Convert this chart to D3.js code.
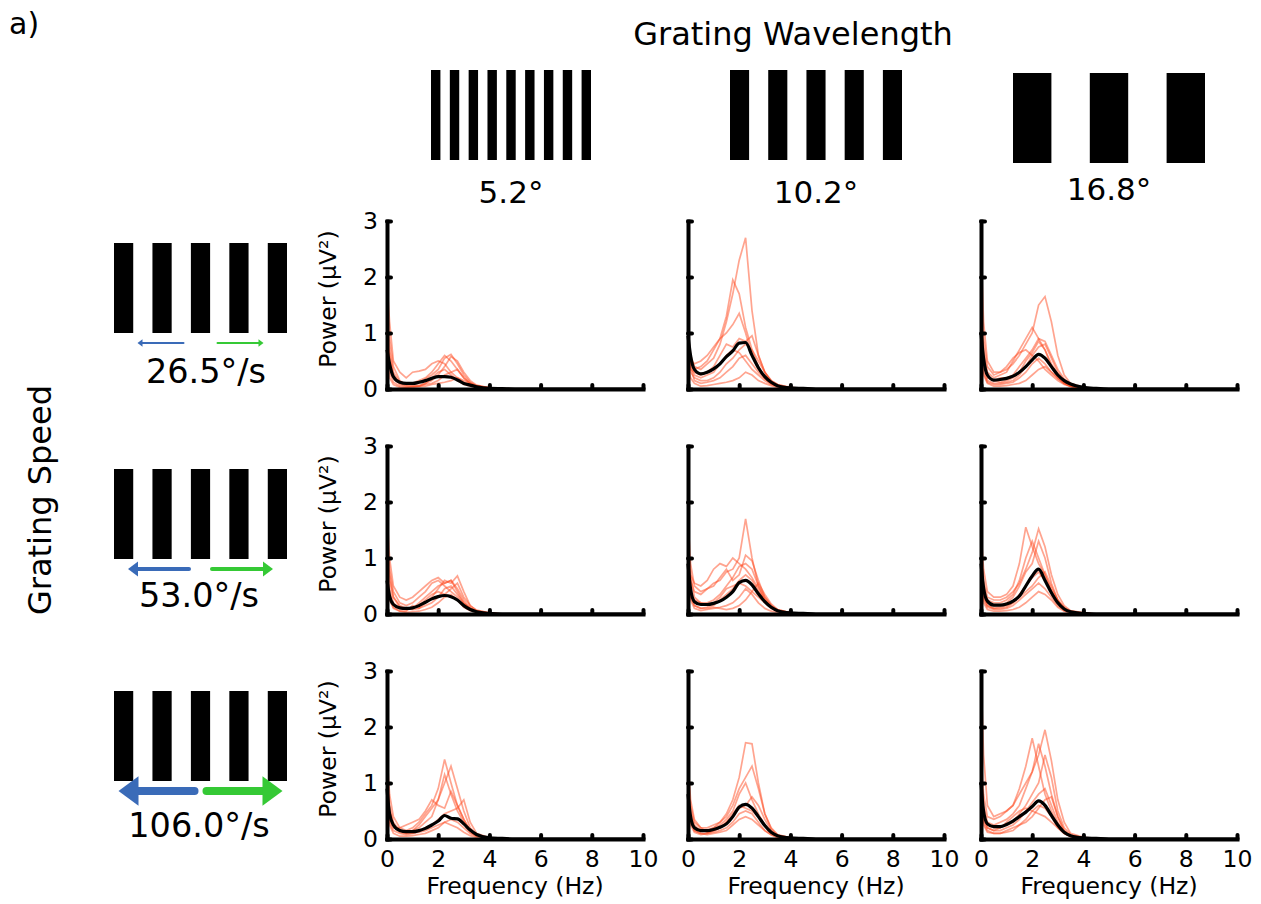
<!DOCTYPE html>
<html>
<head>
<meta charset="utf-8">
<script src="https://cdn.jsdelivr.net/npm/d3@7"></script>
<style>
body { margin: 0; background: #fff; }
svg { font-family: "DejaVu Sans", sans-serif; }
.axis path, .axis line { stroke: #000; stroke-width: 4; }
.axis path { stroke-linecap: square; }
.axis line { stroke-linecap: round; }
.axis text { font-size: 23.5px; fill: #000; font-family: "DejaVu Sans", sans-serif; }
</style>
</head>
<body>
<div id="chart"></div>
<script>
// frequency grid (Hz) shared by every spectrum
const freqs = [0, 0.1, 0.25, 0.5, 0.75, 1.0, 1.25, 1.5, 1.75, 2.0, 2.25, 2.5, 2.75, 3.0, 3.25, 3.5, 4.0, 4.5, 5, 10];

const wavelengths = ["5.2°", "10.2°", "16.8°"];
const speedLabels = ["26.5°/s", "53.0°/s", "106.0°/s"];
const speeds = [26.5, 53.0, 106.0];
const gratingBars = [9, 5, 3];
const xTicks = [0, 2, 4, 6, 8, 10];
const yTicks = [0, 1, 2, 3];

// row 1 : 26.5 deg/s
const mean_r1c1 = [0.7, 0.45, 0.22, 0.12, 0.1, 0.1, 0.12, 0.15, 0.19, 0.22, 0.22, 0.21, 0.16, 0.1, 0.07, 0.04, 0.01, 0.005, 0, 0];
const trials_r1c1 = [
  [1.9, 1.2, 0.5, 0.3, 0.2, 0.3, 0.32, 0.35, 0.45, 0.5, 0.45, 0.3, 0.2, 0.12, 0.08, 0.05, 0.02, 0.01, 0, 0],
  [1.5, 0.9, 0.4, 0.15, 0.08, 0.1, 0.15, 0.2, 0.3, 0.45, 0.6, 0.5, 0.35, 0.2, 0.1, 0.05, 0.02, 0, 0, 0],
  [1.2, 0.7, 0.3, 0.12, 0.1, 0.08, 0.1, 0.18, 0.25, 0.35, 0.55, 0.62, 0.45, 0.25, 0.12, 0.06, 0.02, 0, 0, 0],
  [0.9, 0.5, 0.2, 0.08, 0.05, 0.05, 0.06, 0.1, 0.15, 0.25, 0.4, 0.58, 0.5, 0.3, 0.15, 0.07, 0.02, 0, 0, 0],
  [0.6, 0.3, 0.12, 0.05, 0.03, 0.04, 0.05, 0.08, 0.1, 0.15, 0.25, 0.3, 0.35, 0.2, 0.1, 0.05, 0.01, 0, 0, 0],
  [0.4, 0.2, 0.08, 0.03, 0.02, 0.03, 0.05, 0.1, 0.2, 0.3, 0.35, 0.25, 0.15, 0.08, 0.05, 0.03, 0.01, 0, 0, 0],
  [1.0, 0.6, 0.25, 0.1, 0.06, 0.05, 0.04, 0.05, 0.08, 0.1, 0.12, 0.15, 0.2, 0.15, 0.1, 0.05, 0.01, 0, 0, 0]
];
const mean_r1c2 = [0.95, 0.6, 0.35, 0.27, 0.3, 0.36, 0.45, 0.58, 0.68, 0.82, 0.83, 0.6, 0.38, 0.22, 0.12, 0.06, 0.02, 0.01, 0, 0];
const trials_r1c2 = [
  [1.0, 0.6, 0.4, 0.35, 0.45, 0.55, 0.8, 1.2, 1.7, 2.3, 2.7, 1.4, 0.6, 0.3, 0.15, 0.08, 0.02, 0.01, 0, 0],
  [0.9, 0.5, 0.35, 0.4, 0.5, 0.7, 0.9, 1.3, 1.95, 1.7, 1.1, 0.7, 0.4, 0.2, 0.1, 0.05, 0.02, 0, 0, 0],
  [0.8, 0.5, 0.45, 0.5, 0.6, 0.75, 0.9, 1.0, 1.15, 1.35, 1.0, 0.6, 0.35, 0.2, 0.1, 0.05, 0.02, 0, 0, 0],
  [0.6, 0.35, 0.3, 0.25, 0.3, 0.4, 0.6, 0.8, 0.75, 0.9, 0.85, 0.95, 0.6, 0.3, 0.12, 0.06, 0.02, 0, 0, 0],
  [0.5, 0.3, 0.2, 0.15, 0.15, 0.2, 0.3, 0.45, 0.55, 0.7, 0.8, 0.7, 0.5, 0.3, 0.15, 0.08, 0.03, 0.01, 0, 0],
  [0.7, 0.4, 0.15, 0.1, 0.12, 0.15, 0.2, 0.3, 0.4, 0.55, 0.6, 0.45, 0.3, 0.18, 0.1, 0.05, 0.01, 0, 0, 0],
  [0.4, 0.2, 0.1, 0.05, 0.06, 0.08, 0.1, 0.12, 0.15, 0.2, 0.3, 0.25, 0.15, 0.1, 0.06, 0.03, 0.01, 0, 0, 0],
  [0.8, 0.45, 0.25, 0.2, 0.25, 0.3, 0.45, 0.6, 0.7, 0.65, 0.5, 0.35, 0.25, 0.15, 0.08, 0.04, 0.01, 0, 0, 0]
];
const mean_r1c3 = [1.0, 0.55, 0.25, 0.16, 0.17, 0.19, 0.23, 0.3, 0.4, 0.52, 0.62, 0.55, 0.4, 0.25, 0.15, 0.09, 0.03, 0.01, 0, 0];
const trials_r1c3 = [
  [1.8, 0.9, 0.4, 0.25, 0.3, 0.35, 0.45, 0.6, 0.8, 1.0, 1.5, 1.65, 1.2, 0.6, 0.25, 0.1, 0.03, 0.01, 0, 0],
  [1.4, 0.7, 0.3, 0.2, 0.25, 0.3, 0.5, 0.7, 0.9, 1.1, 0.9, 0.7, 0.45, 0.25, 0.12, 0.05, 0.02, 0, 0, 0],
  [1.0, 0.5, 0.2, 0.15, 0.2, 0.2, 0.25, 0.4, 0.55, 0.7, 0.9, 0.85, 0.6, 0.35, 0.18, 0.08, 0.02, 0, 0, 0],
  [0.8, 0.4, 0.15, 0.1, 0.1, 0.12, 0.15, 0.25, 0.4, 0.6, 0.75, 0.8, 0.55, 0.3, 0.15, 0.07, 0.02, 0, 0, 0],
  [0.6, 0.3, 0.12, 0.08, 0.08, 0.1, 0.12, 0.2, 0.3, 0.45, 0.55, 0.45, 0.3, 0.18, 0.1, 0.05, 0.01, 0, 0, 0],
  [1.2, 0.6, 0.25, 0.15, 0.12, 0.15, 0.2, 0.3, 0.5, 0.65, 0.85, 0.7, 0.4, 0.2, 0.1, 0.05, 0.01, 0, 0, 0],
  [0.5, 0.25, 0.1, 0.05, 0.05, 0.06, 0.08, 0.1, 0.15, 0.25, 0.35, 0.4, 0.3, 0.2, 0.1, 0.05, 0.01, 0, 0, 0],
  [2.5, 1.2, 0.5, 0.3, 0.3, 0.4, 0.55, 0.65, 0.7, 0.6, 0.5, 0.35, 0.25, 0.15, 0.08, 0.04, 0.01, 0, 0, 0]
];

// row 2 : 53.0 deg/s
const mean_r2c1 = [0.6, 0.32, 0.17, 0.11, 0.1, 0.11, 0.15, 0.21, 0.27, 0.31, 0.33, 0.31, 0.25, 0.15, 0.08, 0.04, 0.01, 0, 0, 0];
const trials_r2c1 = [
  [1.8, 1.0, 0.5, 0.3, 0.25, 0.3, 0.4, 0.5, 0.6, 0.65, 0.55, 0.6, 0.45, 0.25, 0.1, 0.05, 0.01, 0, 0, 0],
  [1.4, 0.8, 0.4, 0.2, 0.15, 0.2, 0.3, 0.4, 0.55, 0.6, 0.5, 0.4, 0.3, 0.18, 0.1, 0.05, 0.01, 0, 0, 0],
  [1.0, 0.6, 0.3, 0.15, 0.1, 0.08, 0.1, 0.2, 0.3, 0.45, 0.6, 0.55, 0.68, 0.4, 0.15, 0.06, 0.02, 0, 0, 0],
  [0.8, 0.45, 0.2, 0.1, 0.08, 0.1, 0.2, 0.3, 0.4, 0.5, 0.55, 0.6, 0.4, 0.2, 0.1, 0.05, 0.01, 0, 0, 0],
  [0.6, 0.3, 0.12, 0.05, 0.05, 0.15, 0.1, 0.15, 0.2, 0.3, 0.45, 0.5, 0.35, 0.2, 0.1, 0.04, 0.01, 0, 0, 0],
  [0.5, 0.25, 0.1, 0.05, 0.03, 0.04, 0.05, 0.08, 0.12, 0.2, 0.3, 0.35, 0.25, 0.12, 0.06, 0.03, 0.01, 0, 0, 0],
  [1.2, 0.7, 0.3, 0.12, 0.1, 0.12, 0.15, 0.25, 0.35, 0.4, 0.35, 0.45, 0.55, 0.3, 0.15, 0.07, 0.02, 0, 0, 0]
];
const mean_r2c2 = [0.9, 0.45, 0.22, 0.17, 0.17, 0.19, 0.23, 0.3, 0.4, 0.56, 0.6, 0.52, 0.36, 0.22, 0.12, 0.06, 0.02, 0.01, 0, 0];
const trials_r2c2 = [
  [1.7, 0.9, 0.5, 0.4, 0.45, 0.55, 0.6, 0.75, 0.8, 1.0, 1.7, 1.0, 0.5, 0.25, 0.12, 0.06, 0.02, 0, 0, 0],
  [1.2, 0.7, 0.55, 0.5, 0.6, 0.8, 0.9, 0.85, 1.0, 0.9, 0.8, 0.65, 0.45, 0.25, 0.12, 0.05, 0.02, 0, 0, 0],
  [1.0, 0.6, 0.4, 0.35, 0.45, 0.5, 0.65, 0.8, 0.6, 0.7, 1.05, 0.95, 0.6, 0.3, 0.15, 0.06, 0.02, 0, 0, 0],
  [0.8, 0.4, 0.25, 0.2, 0.2, 0.25, 0.35, 0.5, 0.65, 0.85, 0.9, 0.8, 0.5, 0.3, 0.15, 0.08, 0.02, 0, 0, 0],
  [0.6, 0.3, 0.15, 0.1, 0.12, 0.15, 0.25, 0.35, 0.45, 0.6, 0.7, 0.6, 0.4, 0.25, 0.12, 0.06, 0.02, 0, 0, 0],
  [0.5, 0.25, 0.1, 0.06, 0.08, 0.1, 0.12, 0.15, 0.2, 0.3, 0.45, 0.35, 0.2, 0.1, 0.05, 0.03, 0.01, 0, 0, 0],
  [0.7, 0.35, 0.15, 0.1, 0.1, 0.12, 0.1, 0.08, 0.1, 0.15, 0.25, 0.4, 0.55, 0.35, 0.18, 0.08, 0.02, 0, 0, 0],
  [1.4, 0.7, 0.3, 0.2, 0.15, 0.2, 0.3, 0.45, 0.5, 0.55, 0.5, 0.4, 0.3, 0.2, 0.1, 0.05, 0.02, 0, 0, 0]
];
const mean_r2c3 = [0.9, 0.47, 0.23, 0.16, 0.16, 0.18, 0.23, 0.32, 0.5, 0.68, 0.8, 0.6, 0.38, 0.2, 0.09, 0.04, 0.01, 0, 0, 0];
const trials_r2c3 = [
  [1.5, 0.8, 0.4, 0.3, 0.3, 0.35, 0.5, 0.9, 1.55, 1.2, 0.9, 0.7, 0.45, 0.25, 0.12, 0.05, 0.02, 0, 0, 0],
  [1.2, 0.6, 0.3, 0.25, 0.25, 0.3, 0.4, 0.55, 0.8, 1.1, 1.52, 1.2, 0.7, 0.35, 0.15, 0.06, 0.02, 0, 0, 0],
  [1.0, 0.5, 0.25, 0.2, 0.2, 0.25, 0.35, 0.6, 1.0, 1.3, 1.0, 0.7, 0.4, 0.2, 0.1, 0.04, 0.01, 0, 0, 0],
  [0.8, 0.4, 0.2, 0.15, 0.15, 0.2, 0.3, 0.5, 0.75, 0.9, 1.3, 1.0, 0.55, 0.25, 0.1, 0.04, 0.01, 0, 0, 0],
  [0.6, 0.3, 0.15, 0.1, 0.1, 0.12, 0.2, 0.35, 0.5, 0.65, 0.75, 0.6, 0.4, 0.2, 0.08, 0.03, 0.01, 0, 0, 0],
  [0.5, 0.25, 0.12, 0.08, 0.08, 0.1, 0.15, 0.25, 0.35, 0.45, 0.55, 0.45, 0.3, 0.15, 0.06, 0.03, 0.01, 0, 0, 0],
  [0.7, 0.35, 0.15, 0.1, 0.12, 0.15, 0.2, 0.3, 0.4, 0.5, 0.65, 0.75, 0.5, 0.25, 0.1, 0.04, 0.01, 0, 0, 0],
  [0.4, 0.2, 0.08, 0.05, 0.05, 0.06, 0.08, 0.12, 0.2, 0.3, 0.4, 0.35, 0.25, 0.12, 0.05, 0.02, 0.01, 0, 0, 0]
];

// row 3 : 106.0 deg/s
const mean_r3c1 = [0.9, 0.45, 0.25, 0.15, 0.13, 0.13, 0.15, 0.19, 0.25, 0.32, 0.42, 0.37, 0.36, 0.27, 0.16, 0.08, 0.02, 0.01, 0, 0];
const trials_r3c1 = [
  [1.5, 0.8, 0.4, 0.2, 0.15, 0.2, 0.3, 0.45, 0.6, 0.9, 1.42, 1.0, 0.6, 0.35, 0.15, 0.06, 0.02, 0, 0, 0],
  [1.2, 0.6, 0.3, 0.15, 0.1, 0.15, 0.2, 0.3, 0.4, 0.7, 1.0, 1.3, 0.9, 0.5, 0.2, 0.08, 0.02, 0, 0, 0],
  [0.9, 0.5, 0.25, 0.15, 0.12, 0.15, 0.25, 0.4, 0.55, 0.7, 1.15, 0.8, 0.5, 0.3, 0.12, 0.05, 0.02, 0, 0, 0],
  [0.7, 0.35, 0.2, 0.2, 0.25, 0.3, 0.35, 0.5, 0.7, 0.6, 0.55, 0.85, 0.6, 0.35, 0.15, 0.06, 0.02, 0, 0, 0],
  [0.6, 0.3, 0.15, 0.1, 0.08, 0.1, 0.15, 0.2, 0.25, 0.35, 0.45, 0.5, 0.55, 0.7, 0.3, 0.1, 0.02, 0, 0, 0],
  [0.5, 0.25, 0.1, 0.05, 0.05, 0.06, 0.08, 0.1, 0.15, 0.2, 0.3, 0.25, 0.2, 0.12, 0.06, 0.03, 0.01, 0, 0, 0],
  [1.0, 0.5, 0.25, 0.12, 0.1, 0.1, 0.12, 0.15, 0.2, 0.25, 0.3, 0.35, 0.3, 0.2, 0.1, 0.05, 0.01, 0, 0, 0]
];
const mean_r3c2 = [0.8, 0.4, 0.2, 0.15, 0.15, 0.17, 0.21, 0.27, 0.4, 0.57, 0.62, 0.55, 0.4, 0.24, 0.12, 0.06, 0.02, 0.01, 0, 0];
const trials_r3c2 = [
  [1.2, 0.6, 0.3, 0.2, 0.2, 0.25, 0.3, 0.45, 0.7, 1.1, 1.72, 1.7, 1.0, 0.45, 0.2, 0.08, 0.02, 0, 0, 0],
  [1.0, 0.5, 0.25, 0.15, 0.15, 0.2, 0.3, 0.4, 0.6, 0.9, 1.1, 1.3, 0.9, 0.45, 0.18, 0.07, 0.02, 0, 0, 0],
  [0.8, 0.4, 0.2, 0.15, 0.15, 0.2, 0.25, 0.35, 0.5, 0.8, 1.0, 0.7, 0.45, 0.25, 0.1, 0.05, 0.01, 0, 0, 0],
  [0.6, 0.3, 0.15, 0.1, 0.1, 0.15, 0.2, 0.3, 0.4, 0.55, 0.6, 0.75, 0.6, 0.35, 0.15, 0.06, 0.02, 0, 0, 0],
  [0.5, 0.25, 0.12, 0.08, 0.1, 0.12, 0.15, 0.2, 0.3, 0.45, 0.5, 0.45, 0.3, 0.15, 0.08, 0.03, 0.01, 0, 0, 0],
  [0.7, 0.35, 0.15, 0.1, 0.08, 0.1, 0.12, 0.15, 0.25, 0.35, 0.4, 0.35, 0.25, 0.15, 0.07, 0.03, 0.01, 0, 0, 0],
  [1.4, 0.7, 0.35, 0.2, 0.12, 0.15, 0.2, 0.3, 0.45, 0.6, 0.55, 0.5, 0.4, 0.25, 0.12, 0.05, 0.01, 0, 0, 0]
];
const mean_r3c3 = [1.0, 0.5, 0.27, 0.22, 0.22, 0.26, 0.32, 0.4, 0.48, 0.58, 0.68, 0.6, 0.42, 0.25, 0.12, 0.06, 0.02, 0.01, 0, 0];
const trials_r3c3 = [
  [3.0, 1.5, 0.6, 0.4, 0.45, 0.5, 0.6, 0.8, 1.0, 1.2, 1.5, 1.95, 1.4, 0.7, 0.3, 0.1, 0.03, 0.01, 0, 0],
  [1.5, 0.8, 0.4, 0.35, 0.4, 0.5, 0.6, 0.9, 1.3, 1.8, 1.3, 0.8, 0.5, 0.25, 0.1, 0.05, 0.02, 0, 0, 0],
  [1.2, 0.6, 0.3, 0.25, 0.3, 0.35, 0.45, 0.6, 0.9, 1.2, 1.7, 1.3, 0.8, 0.4, 0.15, 0.06, 0.02, 0, 0, 0],
  [0.9, 0.45, 0.25, 0.2, 0.2, 0.25, 0.3, 0.45, 0.6, 0.8, 1.0, 1.5, 1.1, 0.5, 0.2, 0.08, 0.02, 0, 0, 0],
  [0.7, 0.35, 0.2, 0.15, 0.15, 0.2, 0.25, 0.35, 0.5, 0.65, 0.8, 0.9, 0.6, 0.3, 0.12, 0.05, 0.02, 0, 0, 0],
  [0.5, 0.25, 0.12, 0.1, 0.1, 0.12, 0.15, 0.25, 0.35, 0.5, 0.6, 0.55, 0.4, 0.2, 0.1, 0.04, 0.01, 0, 0, 0],
  [0.8, 0.4, 0.2, 0.15, 0.2, 0.3, 0.4, 0.5, 0.55, 0.5, 0.45, 0.4, 0.3, 0.2, 0.1, 0.05, 0.02, 0.01, 0, 0],
  [0.6, 0.3, 0.15, 0.1, 0.1, 0.15, 0.2, 0.25, 0.3, 0.4, 0.55, 0.7, 0.75, 0.4, 0.15, 0.06, 0.02, 0, 0, 0]
];

const means = [
  [mean_r1c1, mean_r1c2, mean_r1c3],
  [mean_r2c1, mean_r2c2, mean_r2c3],
  [mean_r3c1, mean_r3c2, mean_r3c3]
];
const trials = [
  [trials_r1c1, trials_r1c2, trials_r1c3],
  [trials_r2c1, trials_r2c2, trials_r2c3],
  [trials_r3c1, trials_r3c2, trials_r3c3]
];

// layout
const width = 1261;
const height = 904;
const colX = [387, 688, 981];
const rowY = [221, 446, 671];
const panelW = 256;
const panelH = 168;

const trialColor = "#ff4a1f";
const blue = "#3a6bb8";
const green = "#35c935";

const svg = d3.select("#chart").append("svg")
    .attr("width", width)
    .attr("height", height);

// panel label and headers
svg.append("text")
    .attr("x", 9).attr("y", 34)
    .attr("font-size", 30)
    .text("a)");

svg.append("text")
    .attr("x", 793).attr("y", 45)
    .attr("text-anchor", "middle")
    .attr("font-size", 32)
    .text("Grating Wavelength");

svg.append("text")
    .attr("transform", "translate(51, 500) rotate(-90)")
    .attr("text-anchor", "middle")
    .attr("font-size", 32)
    .text("Grating Speed");

// draw a square-wave grating: n black bars filling total width w
function drawGrating(x0, y0, w, h, n) {
    const period = w / (n - 0.5);
    svg.append("g").selectAll("rect")
        .data(d3.range(n))
        .join("rect")
        .attr("x", i => x0 + i * period)
        .attr("y", y0)
        .attr("width", period / 2)
        .attr("height", h)
        .attr("fill", "#000");
}

// top gratings (wavelength)
const topCx = [511, 816, 1109];
const topW = [160, 172, 192];
const topY = [70, 70, 73];
const titleY = [203, 203, 200];
wavelengths.forEach((label, c) => {
    const cx = topCx[c];
    drawGrating(cx - topW[c] / 2, topY[c], topW[c], 90, gratingBars[c]);
    svg.append("text")
        .attr("x", cx).attr("y", titleY[c])
        .attr("text-anchor", "middle")
        .attr("font-size", 31)
        .text(label);
});

// left gratings (speed) with arrows
const leftX = 114, leftW = 173;
const leftY = [243, 469, 691];
const arrowY = [343, 569, 791];
const labelX = [206, 199, 199];
const labelY = [383, 607, 837];
const lwScale = d3.scaleLinear().domain([0, 106]).range([0, 8]);

function drawArrow(tailX, tipX, y, lw, color) {
    const dir = Math.sign(tipX - tailX);
    const headLen = Math.max(5, lw * 2.5);
    const headHalf = Math.max(3, lw * 1.85);
    const baseX = tipX - dir * headLen;
    svg.append("line")
        .attr("x1", tailX).attr("y1", y)
        .attr("x2", baseX + dir * 1).attr("y2", y)
        .attr("stroke", color)
        .attr("stroke-width", lw)
        .attr("stroke-linecap", "round");
    svg.append("path")
        .attr("d", `M${tipX},${y}L${baseX},${y - headHalf}L${baseX},${y + headHalf}Z`)
        .attr("fill", color);
}

speeds.forEach((s, r) => {
    drawGrating(leftX, leftY[r], leftW, 90, 5);
    const lw = lwScale(s);
    const cx = leftX + leftW / 2;
    const gap = 17 - r * 5.5;
    const len = 46 + r * 15;
    drawArrow(cx - gap, cx - gap - len, arrowY[r], lw, blue);
    drawArrow(cx + gap, cx + gap + len, arrowY[r], lw, green);
    svg.append("text")
        .attr("x", labelX[r]).attr("y", labelY[r])
        .attr("text-anchor", "middle")
        .attr("font-size", 33.5)
        .text(speedLabels[r]);
});

// spectra panels
const x = d3.scaleLinear().domain([0, 10]).range([0, panelW]);
const y = d3.scaleLinear().domain([0, 3]).range([panelH, 0]);
const trialLine = d3.line()
    .x((d, i) => x(freqs[i]))
    .y(d => y(d));
const meanLine = d3.line()
    .x((d, i) => x(freqs[i]))
    .y(d => y(d))
    .curve(d3.curveMonotoneX);

for (let r = 0; r < 3; r++) {
    for (let c = 0; c < 3; c++) {
        const g = svg.append("g")
            .attr("transform", `translate(${colX[c]}, ${rowY[r]})`);

        g.selectAll(".trial")
            .data(trials[r][c])
            .join("path")
            .attr("class", "trial")
            .attr("d", trialLine)
            .attr("fill", "none")
            .attr("stroke", trialColor)
            .attr("stroke-opacity", 0.5)
            .attr("stroke-width", 1.7);

        g.append("path")
            .datum(means[r][c])
            .attr("d", meanLine)
            .attr("fill", "none")
            .attr("stroke", "#000")
            .attr("stroke-width", 3.2)
            .attr("stroke-linejoin", "round");

        const xAxis = g.append("g")
            .attr("class", "axis")
            .attr("transform", `translate(0, ${panelH})`)
            .call(d3.axisBottom(x).tickValues(xTicks).tickSizeInner(-4).tickSizeOuter(0).tickPadding(11).tickFormat(d3.format("d")));
        if (r < 2) xAxis.selectAll("text").remove();

        const yAxis = g.append("g")
            .attr("class", "axis")
            .call(d3.axisLeft(y).tickValues(yTicks).tickSizeInner(-4).tickSizeOuter(0).tickPadding(9).tickFormat(d3.format("d")));
        if (c > 0) yAxis.selectAll("text").remove();

        if (c === 0) {
            g.append("text")
                .attr("transform", `translate(-51, ${panelH / 2 - 6}) rotate(-90)`)
                .attr("text-anchor", "middle")
                .attr("font-size", 23.5)
                .text("Power (µV²)");
        }
        if (r === 2) {
            g.append("text")
                .attr("x", panelW / 2)
                .attr("y", panelH + 55)
                .attr("text-anchor", "middle")
                .attr("font-size", 23.5)
                .text("Frequency (Hz)");
        }
    }
}
</script>
</body>
</html>
